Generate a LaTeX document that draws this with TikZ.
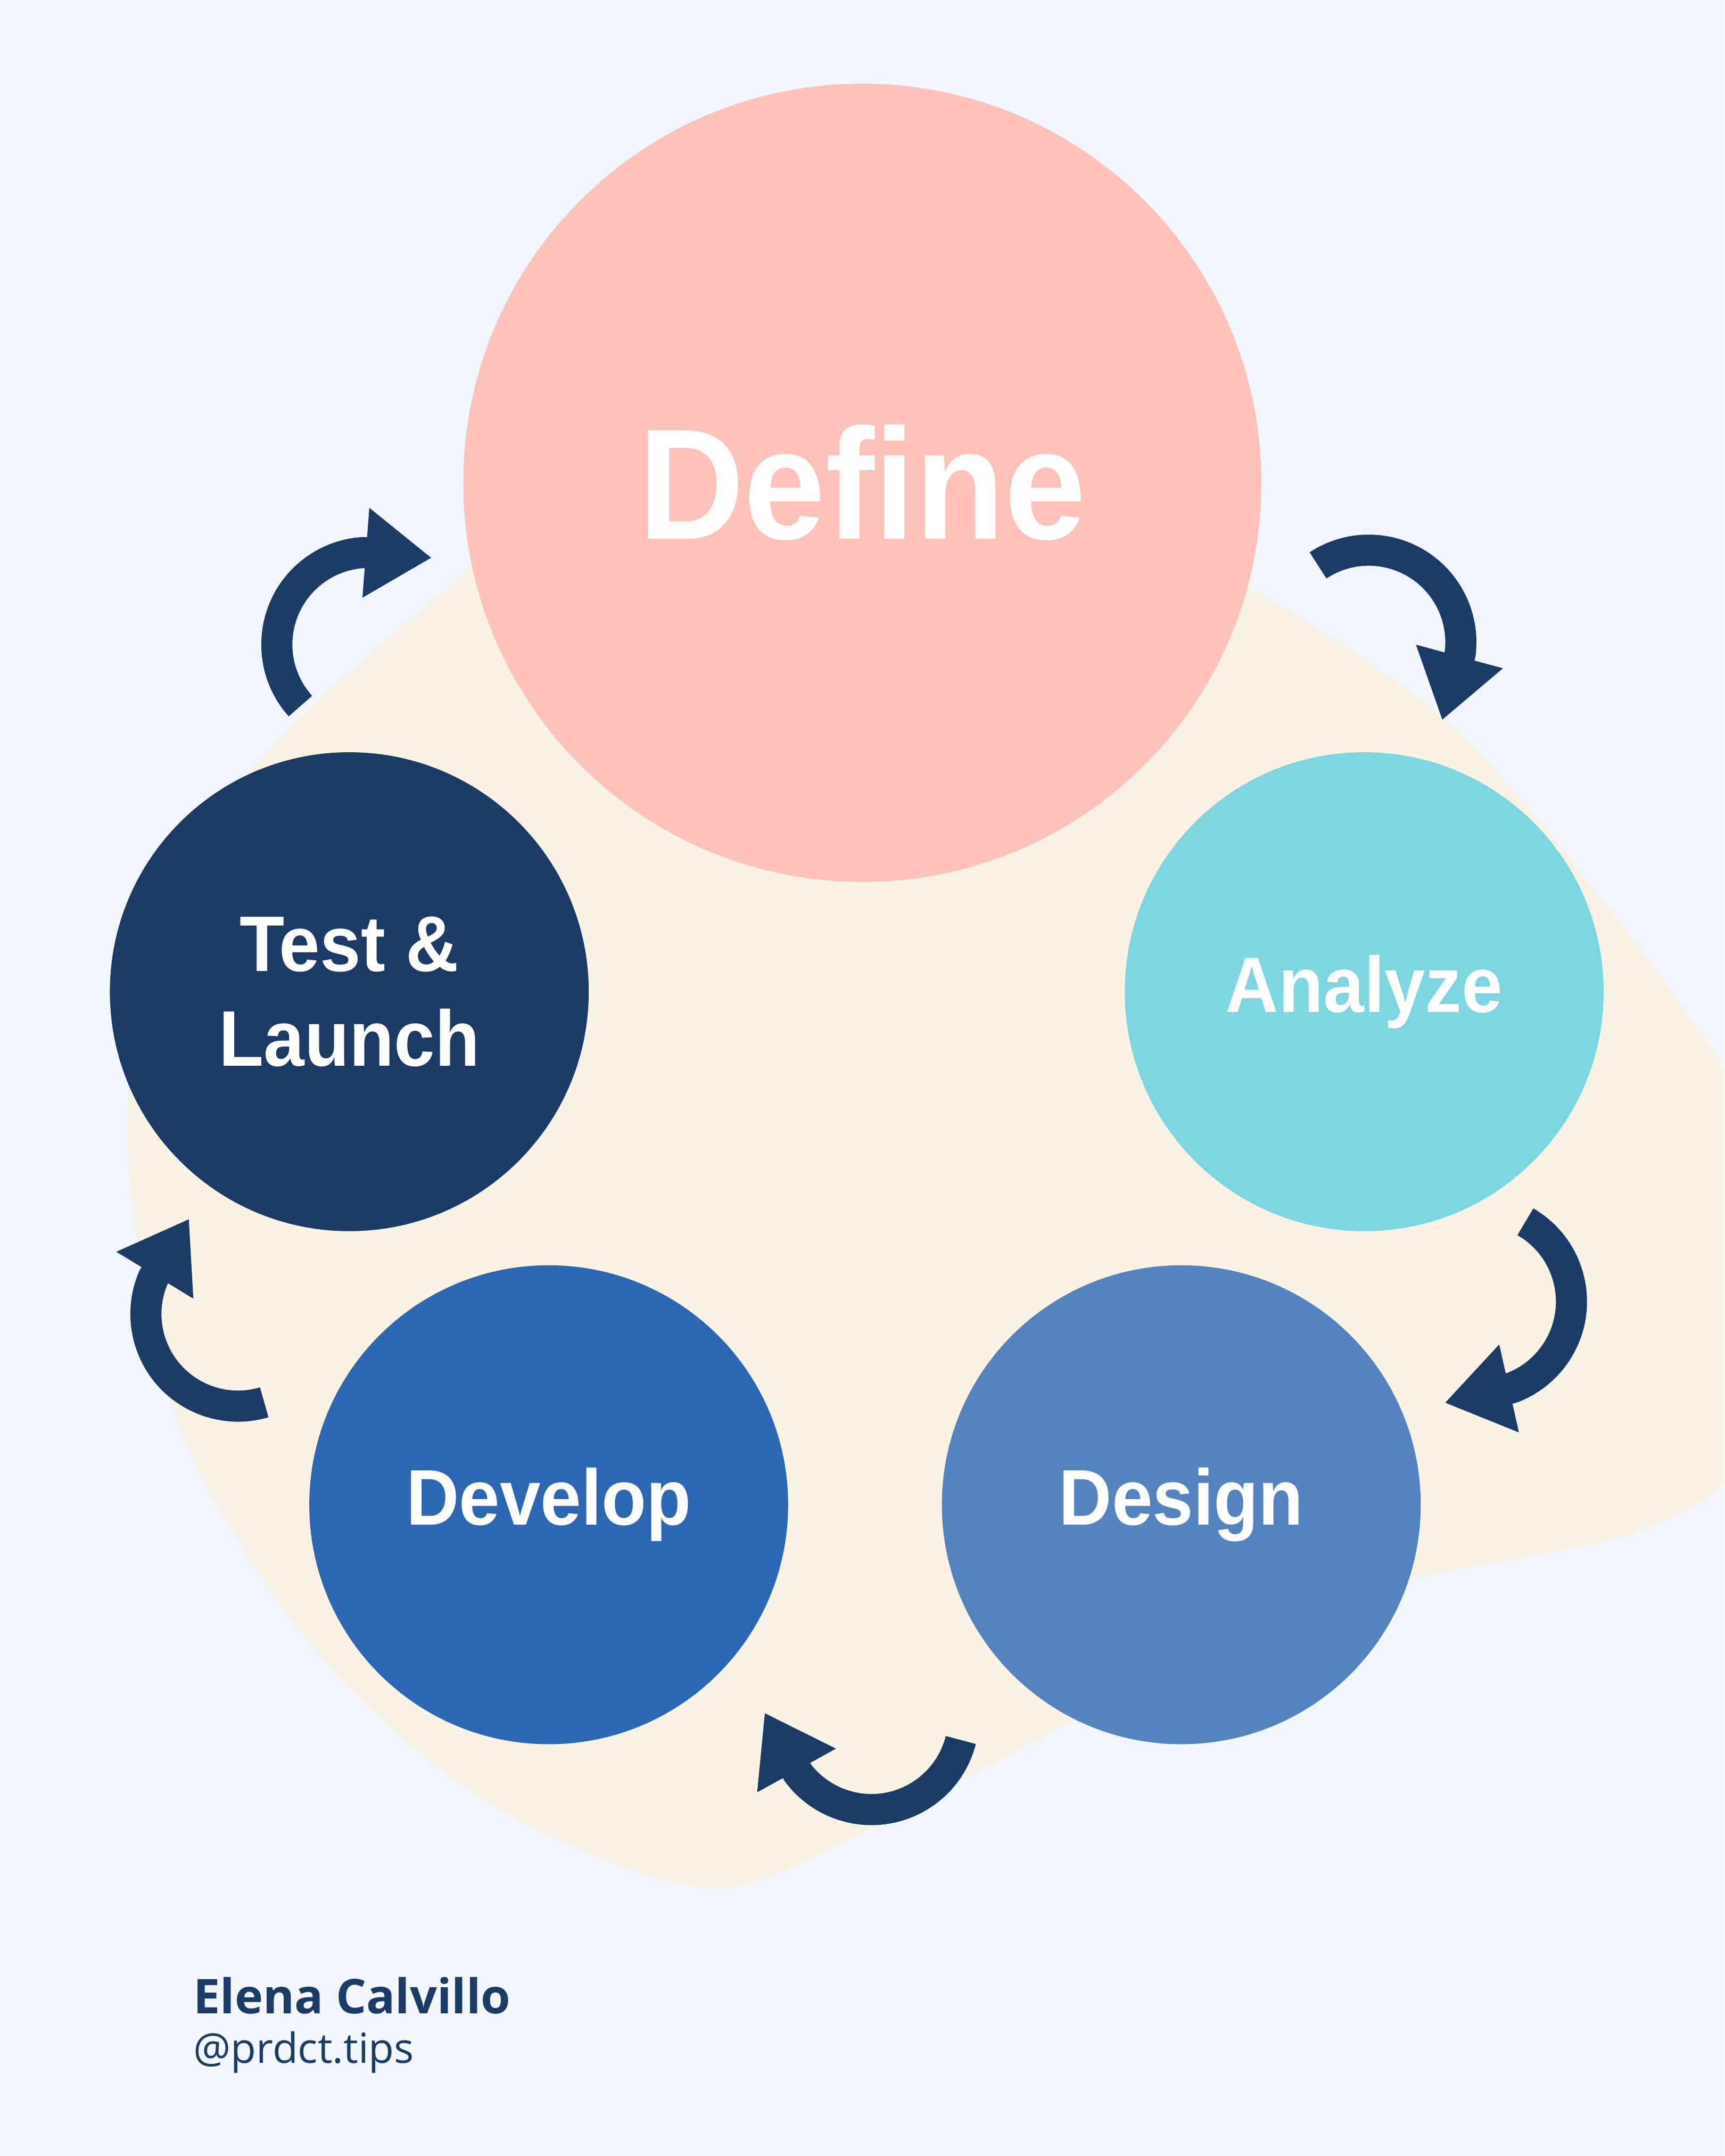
\documentclass[tikz,border=0pt]{standalone}
\usepackage{fontspec}
\setmainfont{Liberation Sans}
\newfontfamily\labelfont{Liberation Sans}[FakeStretch=0.93]
\newfontfamily\footfont{Open Sans}
\usetikzlibrary{calc,arrows.meta}
\definecolor{bgcol}{HTML}{F2F7FD}
\definecolor{blobcol}{HTML}{F9F3E6}
\definecolor{defcol}{HTML}{FDC3BB}
\definecolor{anacol}{HTML}{7DD5E0}
\definecolor{descol}{HTML}{5583BF}
\definecolor{devcol}{HTML}{2D67B4}
\definecolor{navy}{HTML}{1B3A66}
\tikzset{
  stage/.style={circle, inner sep=0pt, minimum size=3.48cm, text=white,
    font=\labelfont\bfseries\fontsize{16.3}{19.6}\selectfont},
  cyc/.style={draw=navy, line width=2.26mm, -{Triangle[length=4.8mm,width=6.2mm]}},
  foot/.style={anchor=base west, inner sep=0pt, text=navy}
}
\begin{document}
\begin{tikzpicture}[x=0.01cm, y=-0.01cm, line join=round]
			\def \rmid{67};
			\def \W{1254};
			\def \H{1567.5};
			\useasboundingbox (0,0) rectangle (\W,\H);
			\clip (0,0) rectangle (\W,\H);
			\fill[bgcol] (0,0) rectangle (\W,\H);
			\fill[blobcol] plot[smooth cycle] coordinates {(800,380) (904,424) (1053,525) (1168,658) (1254,777) (1300,860) (1315,980) (1254,1078) (1192,1113) (1122,1130) (1020,1150) (900,1200) (781,1251) (640,1326) (525,1373) (406,1338) (312,1280) (218,1186) (133,1045) (96,875) (98,760) (140,620) (214,526) (325,428) (420,360)};
			\node[stage, fill=defcol, minimum size=5.8cm, font=\labelfont\bfseries\fontsize{32.6}{39}\selectfont] (define) at (627,351) {Define};
			\node[stage, fill=anacol] (analyze) at (992,721) {Analyze};
			\node[stage, fill=descol] (design) at (859,1094) {Design};
			\node[stage, fill=devcol] (develop) at (399,1094) {Develop};
			\node[stage, fill=navy, align=center] (test) at (254,721) {Test \&\\Launch};
			\coordinate (arcA) at (995.3,467.0);
			\coordinate (arcB) at (1075.7,946.3);
			\coordinate (arcC) at (633.7,1248.6);
			\coordinate (arcD) at (173.1,955.3);
			\coordinate (arcE) at (268.3,468.6);
			\foreach \c/\sa/\ea in {arcA/-123.4/7.2, arcB/-60/69.4, arcC/14.2/143, arcD/73.5/203.3, arcE/138.1/266.4}
				\draw[cyc] ($(\c)+(\sa:\rmid)$) arc[start angle=\sa, end angle=\ea, radius=\rmid] -- ++({\ea+98}:50);
			\node[foot, font=\footfont\bfseries\fontsize{9.9}{12}\selectfont] (author) at (140,1464) {Elena Calvillo};
			\node[foot, font=\footfont\fontsize{8.6}{10}\selectfont] (handle) at (140,1500) {@prdct.tips};
\end{tikzpicture}
\end{document}
